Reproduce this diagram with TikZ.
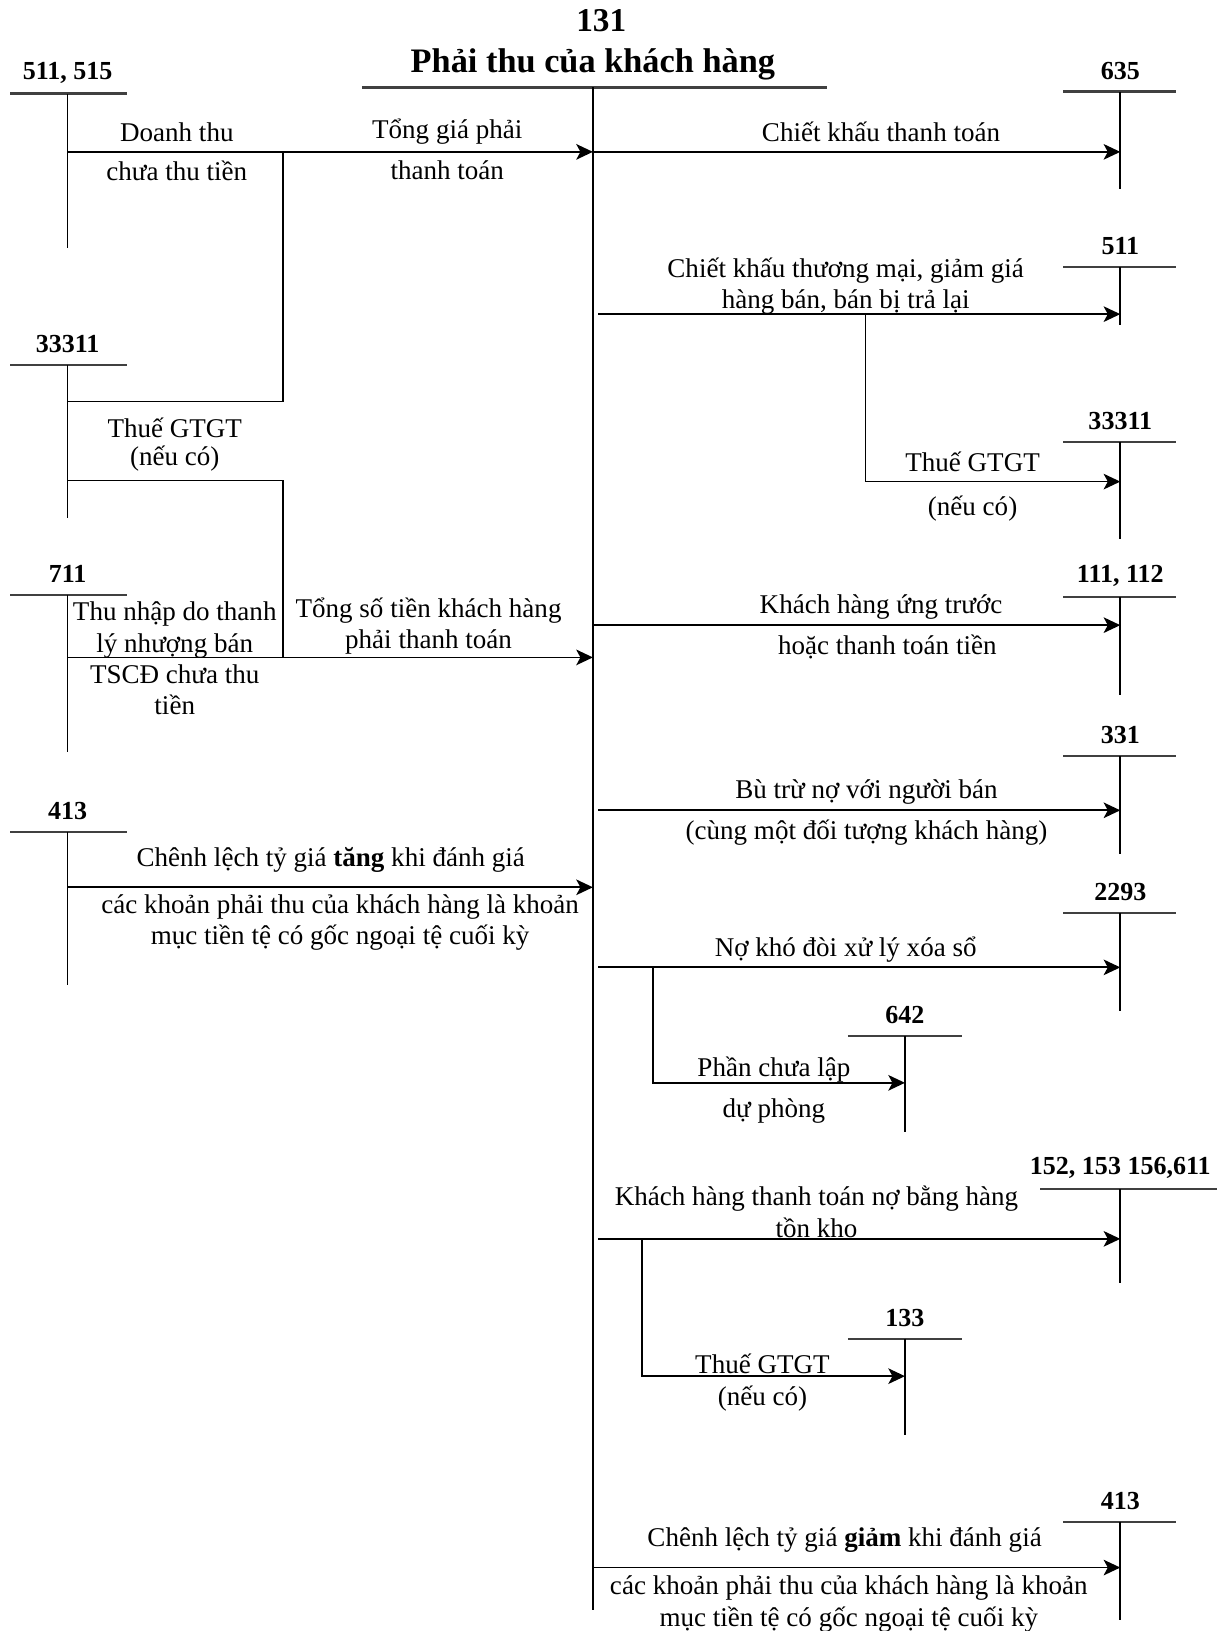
\documentclass[tikz,border=0pt]{standalone}
\usepackage{fontspec}
\setmainfont{Liberation Serif}
\usetikzlibrary{arrows.meta}
\newcommand\Tacc[7]{%
  \coordinate (#1-l) at (#4,#3); \coordinate (#1-r) at (#5,#3);
  \coordinate (#1-t) at (#2,#3); \coordinate (#1-b) at (#2,#6);
  \node[acct] (#1) at (#2,#3-20) {#7};
  \draw[tline] (#1-l) -- (#1-r);
  \draw[vline] (#1-t) -- (#1-b);}
\begin{document}
\begin{tikzpicture}[x=1pt,y=-1pt,
  tline/.style={line width=2.2pt, draw=black!75},
  vline/.style={line width=1.6pt},
  flow/.style={line width=1.7pt,-{Stealth[length=16pt,width=15pt,inset=4pt]}},
  link/.style={line width=1.7pt},
  acct/.style={font=\fontsize{25}{30}\selectfont\bfseries, inner sep=0pt},
  txt/.style={font=\fontsize{26}{30}\selectfont, inner sep=0pt, align=center},
]
\useasboundingbox (0,0) rectangle (1182,1568);
% title account 131
\node[font=\fontsize{32}{36}\selectfont\bfseries, inner sep=0pt] (t131) at (578,20) {131};
\node[font=\fontsize{33}{38}\selectfont\bfseries, inner sep=0pt] (tname) at (570,62) {Phải thu của khách hàng};
\coordinate (mL) at (348,84); \coordinate (mR) at (795,84);
\coordinate (mTop) at (570,84); \coordinate (mBot) at (570,1548);
\draw[tline] (mL) -- (mR);
\draw[vline] (mTop) -- (mBot);
% left accounts
\Tacc{a511}{65}{90}{10}{122}{238}{511, 515}
\Tacc{a33311L}{65}{351}{10}{122}{498}{33311}
\Tacc{a711}{65}{572}{10}{122}{723}{711}
\Tacc{a413L}{65}{800}{10}{122}{947}{413}
% right accounts
\Tacc{a635}{1077}{88}{1022}{1131}{182}{635}
\Tacc{a511R}{1077}{257}{1022}{1131}{312}{511}
\Tacc{a33311R}{1077}{425}{1022}{1131}{518}{33311}
\Tacc{a111}{1077}{574}{1022}{1131}{668}{111, 112}
\Tacc{a331}{1077}{727}{1022}{1131}{821}{331}
\Tacc{a2293}{1077}{878}{1022}{1131}{972}{2293}
\Tacc{a642}{870}{996}{815}{925}{1088}{642}
\Tacc{a152}{1077}{1143}{1000}{1170}{1233}{152, 153 156,611}
\Tacc{a133}{870}{1287}{815}{925}{1380}{133}
\Tacc{a413R}{1077}{1463}{1022}{1131}{1557}{413}
% connection points
\coordinate (s1) at (65,146);  \coordinate (j1) at (272,146); \coordinate (m1) at (570,146);
\coordinate (s2) at (65,386);
\coordinate (s3) at (65,462);  \coordinate (j4) at (272,632);
\coordinate (s4) at (65,632);  \coordinate (m4) at (570,632);
\coordinate (s5) at (65,853);  \coordinate (m5) at (570,853);
\coordinate (e1) at (1077,146);
\coordinate (m6) at (575,302); \coordinate (j6) at (832,302); \coordinate (e6) at (1077,302);
\coordinate (e6b) at (1077,463);
\coordinate (m7) at (570,601); \coordinate (e7) at (1077,601);
\coordinate (m8) at (575,779); \coordinate (e8) at (1077,779);
\coordinate (m9) at (575,930); \coordinate (j9) at (628,930); \coordinate (e9) at (1077,930);
\coordinate (e9b) at (870,1041);
\coordinate (m10) at (575,1191); \coordinate (j10) at (617,1191); \coordinate (e10) at (1077,1191);
\coordinate (e10b) at (870,1323);
\coordinate (m11) at (570,1507); \coordinate (e11) at (1077,1507);
% connectors left
\draw[flow] (s1) -- (m1);
\draw[link] (j1) |- (s2);
\draw[link] (s3) -| (j4);
\draw[flow] (s4) -- (m4);
\draw[flow] (s5) -- (m5);
% connectors right
\draw[flow] (m1) -- (e1);
\draw[flow] (m6) -- (e6);
\draw[flow] (j6) |- (e6b);
\draw[flow] (m7) -- (e7);
\draw[flow] (m8) -- (e8);
\draw[flow] (m9) -- (e9);
\draw[flow] (j9) |- (e9b);
\draw[flow] (m10) -- (e10);
\draw[flow] (j10) |- (e10b);
\draw[flow] (m11) -- (e11);
% texts left
\node[txt] (l1a) at (170,127) {Doanh thu};
\node[txt] (l1b) at (170,164) {chưa thu tiền};
\node[txt] (l2a) at (430,127) {Tổng giá phải};
\node[txt] (l2b) at (430,164) {thanh toán};
\node[txt] (l3a) at (168,411) {Thuế GTGT};
\node[txt] (l3b) at (168,441) {(nếu có)};
\node[txt] (l4) at (168,633) {Thu nhập do thanh\\lý nhượng bán\\TSCĐ chưa thu\\tiền};
\node[txt] (l5) at (412,602) {Tổng số tiền khách hàng\\phải thanh toán};
\node[txt] (l6a) at (318,827) {Chênh lệch tỷ giá \textbf{tăng} khi đánh giá};
\node[txt] (l6b) at (327,887) {các khoản phải thu của khách hàng là khoản\\mục tiền tệ có gốc ngoại tệ cuối kỳ};
% texts right
\node[txt] (r1) at (847,127) {Chiết khấu thanh toán};
\node[txt] (r2) at (813,275) {Chiết khấu thương mại, giảm giá\\hàng bán, bán bị trả lại};
\node[txt] (r3a) at (935,444) {Thuế GTGT};
\node[txt] (r3b) at (935,489) {(nếu có)};
\node[txt] (r4a) at (847,584) {Khách hàng ứng trước};
\node[txt] (r4b) at (853,622) {hoặc thanh toán tiền};
\node[txt] (r5a) at (833,761) {Bù trừ nợ với người bán};
\node[txt] (r5b) at (833,800) {(cùng một đối tượng khách hàng)};
\node[txt] (r6) at (813,913) {Nợ khó đòi xử lý xóa sổ};
\node[txt] (r7a) at (744,1028) {Phần chưa lập};
\node[txt] (r7b) at (744,1068) {dự phòng};
\node[txt] (r8) at (785,1165) {Khách hàng thanh toán nợ bằng hàng\\tồn kho};
\node[txt] (r9a) at (733,1311) {Thuế GTGT};
\node[txt] (r9b) at (733,1345) {(nếu có)};
\node[txt] (r10a) at (812,1481) {Chênh lệch tỷ giá \textbf{giảm} khi đánh giá};
\node[txt] (r10b) at (816,1542) {các khoản phải thu của khách hàng là khoản\\mục tiền tệ có gốc ngoại tệ cuối kỳ};
\end{tikzpicture}
\end{document}
